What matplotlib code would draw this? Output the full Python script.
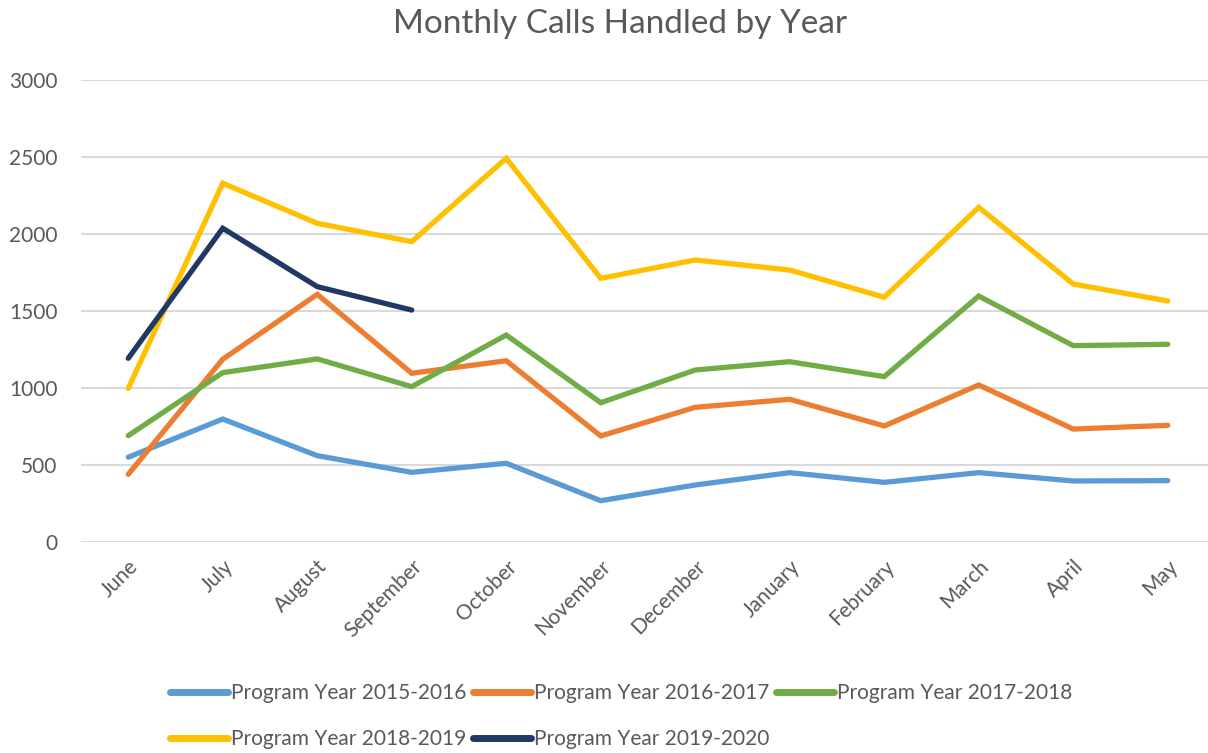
import matplotlib
matplotlib.use("Agg")
import matplotlib.pyplot as plt

months = ["June", "July", "August", "September", "October", "November",
          "December", "January", "February", "March", "April", "May"]

py_2015_2016 = [552, 800, 562, 454, 513, 270, 372, 452, 389, 452, 398, 400]
py_2016_2017 = [441, 1188, 1609, 1097, 1178, 690, 876, 928, 755, 1021, 735, 759]
py_2017_2018 = [692, 1101, 1190, 1010, 1345, 906, 1118, 1172, 1075, 1598, 1276, 1285]
py_2018_2019 = [999, 2330, 2070, 1951, 2492, 1713, 1832, 1767, 1590, 2174, 1676, 1566]
py_2019_2020 = [1194, 2038, 1659, 1507]

series_labels = ["Program Year 2015-2016", "Program Year 2016-2017",
                 "Program Year 2017-2018", "Program Year 2018-2019",
                 "Program Year 2019-2020"]
series_values = [py_2015_2016, py_2016_2017, py_2017_2018, py_2018_2019, py_2019_2020]
colors = ["#5B9BD5", "#ED7D31", "#70AD47", "#FFC000", "#203864"]

yticks = [0, 500, 1000, 1500, 2000, 2500, 3000]

plt.rcParams['font.family'] = ['Lato', 'DejaVu Sans']
text_color = "#595959"

W, H = 1208, 753
fig = plt.figure(figsize=(W / 100, H / 100), dpi=100)
left, right = 81, 1215
bottom, top = 542.3, 80
ax = fig.add_axes([left / W, (H - bottom) / H, (right - left) / W, (bottom - top) / H])

x_all = list(range(len(months)))
handles = []
for label, vals, c in zip(series_labels, series_values, colors):
    h, = ax.plot(x_all[:len(vals)], vals, color=c, lw=3.8, label=label,
                 solid_capstyle='round', solid_joinstyle='miter')
    handles.append(h)

ax.set_xlim(-0.5, len(months) - 0.5)
ax.set_ylim(0, 3000)
ax.set_yticks(yticks)
ax.set_yticklabels([str(v) for v in yticks], fontsize=15, color=text_color)
ax.set_xticks(x_all)
ax.set_xticklabels(months, rotation=45, ha='right', rotation_mode='anchor',
                   fontsize=15, color=text_color)
ax.tick_params(axis='both', length=0)
ax.tick_params(axis='y', pad=17)
ax.tick_params(axis='x', pad=10)
ax.grid(axis='y', color="#D9D9D9", lw=1.5)
ax.set_axisbelow(True)
for s in ax.spines.values():
    s.set_visible(False)

fig.text(620 / W, 1 - 24 / H, "Monthly Calls Handled by Year", ha='center', va='center',
         fontsize=24, color=text_color)

order = [0, 3, 1, 4, 2]
leg = fig.legend([handles[i] for i in order], [series_labels[i] for i in order],
                 loc='center', bbox_to_anchor=(621 / W, 1 - 716 / H), ncol=3,
                 frameon=False, fontsize=15, handlelength=2.8, handletextpad=0.15,
                 columnspacing=0.3, labelspacing=1.25, labelcolor=text_color)
for h in leg.legend_handles:
    h.set_linewidth(5)

fig.savefig("out.png", dpi=100)
